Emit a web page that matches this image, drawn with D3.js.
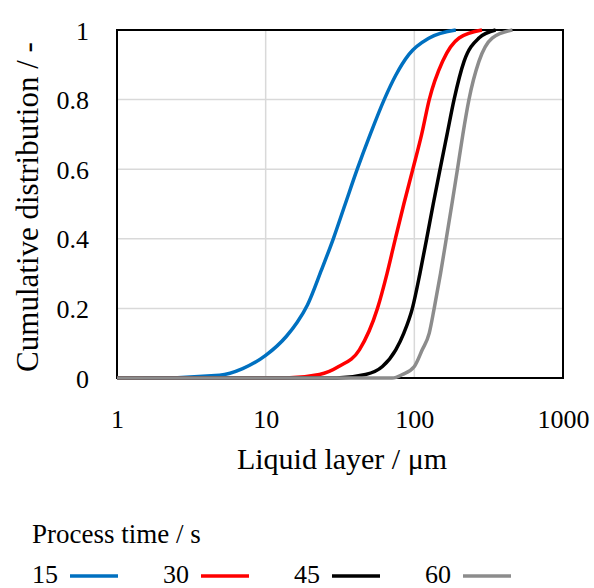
<!DOCTYPE html>
<html>
<head>
<meta charset="utf-8">
<script src="https://cdn.jsdelivr.net/npm/d3@7"></script>
<style>
  html, body { margin: 0; padding: 0; background: #fff; }
  svg { display: block; }
</style>
</head>
<body>
<svg id="chart" width="594" height="588"></svg>
<script>
// ---- data ----
const seriesNames = ["15", "30", "45", "60"];
const seriesColors = ["#0070C0", "#FF0000", "#000000", "#8C8C8C"];

const x15 = [1.5, 1.65, 4.9, 7, 10, 13.8, 16.3, 19.1, 23.7, 28.5, 34.3, 41.3, 50.5, 62.7, 75, 92, 126, 190];
const y15 = [0, 0, 0.008, 0.027, 0.065, 0.12, 0.16, 0.21, 0.31, 0.4, 0.5, 0.6, 0.7, 0.8, 0.87, 0.93, 0.977, 1.0];

const x30 = [1, 13.7, 23, 31, 42.7, 56.5, 65.5, 74.5, 85, 97.7, 112, 126, 155, 200, 285];
const y30 = [0, 0, 0.01, 0.033, 0.081, 0.2, 0.3, 0.4, 0.5, 0.6, 0.7, 0.8, 0.91, 0.977, 1.0];

const x45 = [1, 30, 47, 61, 75, 85, 97, 109, 121, 134, 149, 166, 185, 216, 272, 352];
const y45 = [0, 0, 0.01, 0.033, 0.081, 0.129, 0.2, 0.3, 0.4, 0.5, 0.6, 0.7, 0.8, 0.91, 0.977, 1.0];

const x60 = [1, 71, 83, 100, 113, 126, 136, 150, 164, 179, 195, 212, 233, 272, 334, 457];
const y60 = [0, 0, 0.01, 0.033, 0.081, 0.129, 0.2, 0.3, 0.4, 0.5, 0.6, 0.7, 0.8, 0.91, 0.977, 1.0];

const xTicks = [1, 10, 100, 1000];
const yTicks = [0, 0.2, 0.4, 0.6, 0.8, 1];

const xTitle = "Liquid layer / \u03BCm";
const yTitle = "Cumulative distribution / -";
const legendTitle = "Process time / s";

(function draw() {
  const SERIF = "'Liberation Serif', 'Times New Roman', serif";
  const root = d3.select("#chart");
  const L = 117, R = 563, T = 30, B = 378;

  const sx = d3.scaleLog().domain([1, 1000]).range([L, R]);
  const sy = d3.scaleLinear().domain([0, 1]).range([B, T]);

  // gridlines
  root.append("g").selectAll("line").data(yTicks.filter(d => d > 0 && d < 1)).join("line")
    .attr("x1", L).attr("x2", R).attr("y1", d => sy(d)).attr("y2", d => sy(d))
    .attr("stroke", "#d9d9d9").attr("stroke-width", 1.5);
  root.append("g").selectAll("line").data(xTicks.filter(d => d > 1 && d < 1000)).join("line")
    .attr("y1", T).attr("y2", B).attr("x1", d => sx(d)).attr("x2", d => sx(d))
    .attr("stroke", "#d9d9d9").attr("stroke-width", 1.5);

  // plot border
  root.append("rect").attr("x", L).attr("y", T).attr("width", R - L).attr("height", B - T)
    .attr("fill", "none").attr("stroke", "#000").attr("stroke-width", 2);

  // axes (labels only)
  const xAxis = root.append("g").attr("transform", `translate(0,${B})`)
    .call(d3.axisBottom(sx).tickValues(xTicks).tickFormat(d3.format("d")).tickSize(0));
  xAxis.attr("font-family", SERIF).attr("font-size", 26);
  xAxis.select(".domain").remove();
  xAxis.selectAll("text").attr("font-family", SERIF).style("font-family", SERIF)
    .attr("font-size", 26).attr("y", 50).attr("dy", 0).attr("fill", "#000");

  const yAxis = root.append("g").attr("transform", `translate(${L},0)`)
    .call(d3.axisLeft(sy).tickValues(yTicks).tickFormat(d => String(+d.toFixed(1))).tickSize(0));
  yAxis.attr("font-family", SERIF).attr("font-size", 26);
  yAxis.select(".domain").remove();
  yAxis.selectAll("text").attr("font-family", SERIF).style("font-family", SERIF)
    .attr("font-size", 26).attr("x", -28).attr("dy", 9).attr("fill", "#000");

  // curves
  const seriesX = [x15, x30, x45, x60];
  const seriesY = [y15, y30, y45, y60];
  const line = d3.line().x(d => sx(d[0])).y(d => sy(d[1])).curve(d3.curveMonotoneX);
  seriesNames.forEach((name, i) => {
    const pts = seriesX[i].map((v, j) => [v, seriesY[i][j]]);
    root.append("path").datum(pts).attr("d", line)
      .attr("fill", "none").attr("stroke", seriesColors[i]).attr("stroke-width", 3.5)
      .attr("stroke-linejoin", "round");
  });

  // titles
  root.append("text").attr("x", 342).attr("y", 469).attr("text-anchor", "middle")
    .attr("font-family", SERIF).style("font-family", SERIF).attr("font-size", 30).text(xTitle);
  root.append("text").attr("transform", "translate(38,207) rotate(-90)").attr("text-anchor", "middle")
    .attr("font-family", SERIF).style("font-family", SERIF).attr("font-size", 31).text(yTitle);

  // legend
  root.append("text").attr("x", 32).attr("y", 543)
    .attr("font-family", SERIF).style("font-family", SERIF).attr("font-size", 27).text(legendTitle);
  const legX = [32, 163, 294, 425];
  seriesNames.forEach((name, i) => {
    const g = root.append("g").attr("transform", `translate(${legX[i]},0)`);
    g.append("text").attr("x", 0).attr("y", 583)
      .attr("font-family", SERIF).style("font-family", SERIF).attr("font-size", 26).text(name);
    g.append("line").attr("x1", 38).attr("x2", 86).attr("y1", 576).attr("y2", 576)
      .attr("stroke", seriesColors[i]).attr("stroke-width", 3.5);
  });
})();
</script>
</body>
</html>
